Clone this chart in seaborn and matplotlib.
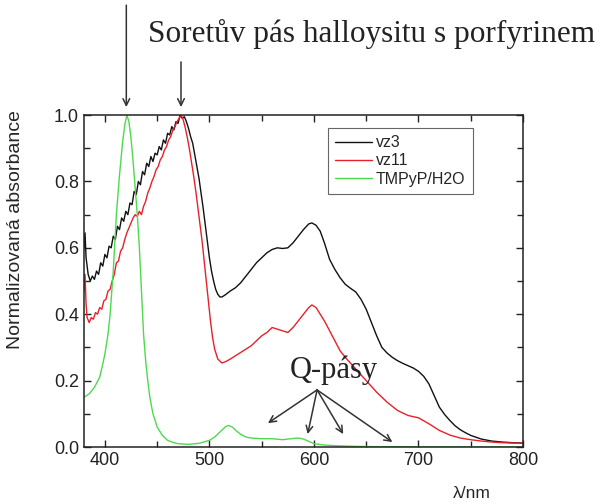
import matplotlib
matplotlib.use("Agg")
import matplotlib.pyplot as plt
import seaborn as sns
import pandas as pd

# --- spectra (normalised absorbance vs. wavelength / nm) ---
vz3_nm = [380, 381, 382, 384, 386, 388, 390, 392, 394, 396, 398, 400, 402, 404, 406,
          408, 410, 412, 414, 416, 418, 420, 422, 424, 426, 428, 430, 432, 434, 436,
          438, 440, 442, 444, 446, 448, 450, 452, 454, 456, 458, 460, 462, 464, 466,
          468, 470, 472, 474, 476, 478, 480, 482, 484, 486, 488, 490, 492, 494, 496,
          498, 500, 502, 504, 506, 508, 510, 512, 515, 520, 525, 530, 535, 540, 545,
          550, 555, 560, 565, 570, 575, 580, 585, 590, 595, 598, 602, 606, 610, 615,
          620, 625, 630, 635, 640, 645, 650, 655, 660, 665, 670, 675, 680, 685, 690,
          695, 700, 705, 710, 715, 720, 725, 730, 735, 740, 745, 750, 760, 770, 780,
          790, 800]
vz3_abs = [0.60, 0.645, 0.57, 0.52, 0.50, 0.515, 0.505, 0.53, 0.52, 0.555, 0.545, 0.58,
           0.57, 0.605, 0.60, 0.635, 0.625, 0.665, 0.655, 0.69, 0.68, 0.71, 0.70, 0.735,
           0.73, 0.77, 0.76, 0.80, 0.79, 0.83, 0.82, 0.855, 0.845, 0.875, 0.86, 0.885,
           0.88, 0.905, 0.895, 0.925, 0.915, 0.945, 0.94, 0.965, 0.955, 0.98, 0.975, 1.0,
           0.99, 0.995, 0.98, 0.96, 0.935, 0.915, 0.88, 0.845, 0.81, 0.765, 0.72, 0.67,
           0.62, 0.57, 0.53, 0.50, 0.475, 0.46, 0.452, 0.452, 0.458, 0.47, 0.48, 0.495,
           0.515, 0.535, 0.555, 0.57, 0.585, 0.595, 0.60, 0.598, 0.60, 0.615, 0.635,
           0.655, 0.672, 0.675, 0.668, 0.65, 0.615, 0.565, 0.535, 0.51, 0.49, 0.478,
           0.467, 0.445, 0.415, 0.375, 0.335, 0.30, 0.283, 0.27, 0.26, 0.252, 0.245,
           0.238, 0.228, 0.213, 0.19, 0.155, 0.12, 0.098, 0.08, 0.064, 0.052, 0.043,
           0.035, 0.024, 0.018, 0.015, 0.013, 0.012]

vz11_nm = [380, 381, 382, 383, 385, 387, 389, 391, 393, 395, 397, 399, 401, 403, 405,
           407, 409, 411, 413, 415, 417, 419, 421, 423, 425, 427, 429, 431, 433, 435,
           437, 439, 441, 443, 445, 447, 449, 451, 453, 455, 457, 459, 461, 463, 465,
           467, 469, 471, 473, 475, 477, 479, 481, 483, 485, 487, 489, 491, 493, 495,
           497, 499, 501, 503, 505, 508, 512, 516, 520, 525, 530, 535, 540, 545, 550,
           555, 560, 565, 570, 575, 580, 585, 590, 595, 598, 602, 606, 610, 615, 620,
           625, 630, 640, 650, 660, 670, 680, 690, 700, 710, 720, 730, 740, 750, 760,
           770, 780, 790, 800]
vz11_abs = [0.47, 0.52, 0.43, 0.39, 0.375, 0.39, 0.385, 0.405, 0.40, 0.42, 0.415, 0.44,
            0.445, 0.47, 0.475, 0.50, 0.52, 0.555, 0.56, 0.59, 0.60, 0.625, 0.645, 0.66,
            0.675, 0.69, 0.70, 0.695, 0.71, 0.70, 0.725, 0.74, 0.765, 0.78, 0.80, 0.815,
            0.835, 0.845, 0.865, 0.875, 0.895, 0.905, 0.925, 0.935, 0.955, 0.965, 0.98,
            0.99, 1.0, 0.985, 0.96, 0.93, 0.895, 0.855, 0.815, 0.77, 0.72, 0.67, 0.62,
            0.56, 0.50, 0.44, 0.38, 0.33, 0.295, 0.265, 0.253, 0.258, 0.265, 0.275,
            0.285, 0.295, 0.305, 0.32, 0.335, 0.345, 0.36, 0.355, 0.35, 0.345, 0.36,
            0.38, 0.40, 0.42, 0.428, 0.42, 0.40, 0.38, 0.35, 0.32, 0.29, 0.27, 0.235,
            0.20, 0.165, 0.135, 0.11, 0.095, 0.088, 0.07, 0.05, 0.036, 0.027, 0.022,
            0.018, 0.015, 0.013, 0.012, 0.012]

tmpyp_nm = [380, 385, 390, 395, 398, 400, 403, 405, 408, 411, 414, 417, 419, 421, 423,
            425, 427, 429, 431, 433, 435, 437, 439, 441, 443, 446, 450, 455, 460, 465,
            470, 480, 490, 500, 505, 510, 515, 518, 522, 526, 530, 535, 540, 550, 560,
            570, 578, 585, 590, 595, 600, 610, 620, 640, 660, 680, 700, 800]
tmpyp_abs = [0.15, 0.16, 0.18, 0.21, 0.25, 0.28, 0.34, 0.40, 0.53, 0.70, 0.82, 0.92,
             0.97, 1.0, 0.98, 0.93, 0.86, 0.78, 0.70, 0.60, 0.47, 0.34, 0.26, 0.20,
             0.15, 0.10, 0.06, 0.035, 0.02, 0.014, 0.01, 0.008, 0.011, 0.02, 0.03,
             0.045, 0.06, 0.065, 0.06, 0.048, 0.038, 0.03, 0.027, 0.025, 0.025, 0.022,
             0.025, 0.027, 0.024, 0.017, 0.01, 0.006, 0.004, 0.002, 0.001, 0.001, 0.0,
             0.0]

series_names = ["vz3", "vz11", "TMPyP/H2O"]
series_colors = ["#111111", "#e8202a", "#4fd94f"]

frames = []
for name, nm, ab in zip(series_names,
                        [vz3_nm, vz11_nm, tmpyp_nm],
                        [vz3_abs, vz11_abs, tmpyp_abs]):
    frames.append(pd.DataFrame({"nm": nm, "abs": ab, "vzorek": name}))
spectra = pd.concat(frames, ignore_index=True)

sns.set_theme(style="ticks")
plt.rcParams["font.family"] = ["Liberation Sans", "DejaVu Sans"]
plt.rcParams["xtick.direction"] = "in"
plt.rcParams["ytick.direction"] = "in"

fig = plt.figure(figsize=(6.09, 5.03), dpi=100)
ax = fig.add_axes([0.1379, 0.1113, 0.7209, 0.6600])

sns.lineplot(data=spectra, x="nm", y="abs", hue="vzorek", hue_order=series_names,
             palette=series_colors, estimator=None, sort=False, linewidth=1.0, ax=ax)

ax.set_xlim(380, 800)
ax.set_ylim(0.0, 1.0)
ax.set_xticks([400, 500, 600, 700, 800])
ax.set_xticks([450, 550, 650, 750], minor=True)
ax.set_yticks([0.0, 0.2, 0.4, 0.6, 0.8, 1.0])
ax.set_yticks([0.1, 0.3, 0.5, 0.7, 0.9], minor=True)
ax.set_yticklabels(["0.0", "0.2", "0.4", "0.6", "0.8", "1.0"])
ax.tick_params(which="both", direction="in", top=True, right=True,
               labelsize=13, colors="#222222", width=1.0)
ax.tick_params(which="major", length=5)
ax.tick_params(which="minor", length=4)
for sp in ax.spines.values():
    sp.set_color("#222222")
    sp.set_linewidth(1.1)

ax.set_xlabel("λ/nm", fontsize=12.5, va="top")
ax.xaxis.set_label_coords(0.884, -0.118)
ax.set_ylabel("Normalizovaná absorbance", fontsize=14, va="center")
ax.yaxis.set_label_coords(-0.157, 0.654)

leg = ax.legend(loc="upper left", bbox_to_anchor=(0.556, 0.961), fontsize=11.5,
                frameon=True, fancybox=False, edgecolor="#666666", framealpha=1.0,
                handlelength=2.3, handletextpad=0.25, labelspacing=0.2,
                borderpad=0.45, borderaxespad=0.0)
leg.get_frame().set_linewidth(0.8)

serif = ["Liberation Serif", "DejaVu Serif"]
arrow_kw = dict(arrowstyle="->", color="#333333", lw=1.1, mutation_scale=12,
                shrinkA=0, shrinkB=0)

# Soret band markers
ax.annotate("", xy=(420.5, 1.024), xytext=(420.5, 1.331),
            arrowprops=arrow_kw, annotation_clip=False)
ax.annotate("", xy=(472.8, 1.024), xytext=(472.8, 1.16),
            arrowprops=arrow_kw, annotation_clip=False)
fig.text(148 / 609, 1 - 42 / 503, "Soretův pás halloysitu s porfyrinem",
         family=serif, fontsize=22.5, color="#222222", va="baseline", ha="left")

# Q bands
ax.text(577, 0.208, "Q-pásy", family=serif, fontsize=22, color="#222222",
        va="baseline", ha="left")
for tx, ty in [(556, 0.072), (594, 0.039), (628, 0.039), (675, 0.015)]:
    ax.annotate("", xy=(tx, ty), xytext=(603, 0.172), arrowprops=arrow_kw)

fig.savefig("out.png", dpi=100)
